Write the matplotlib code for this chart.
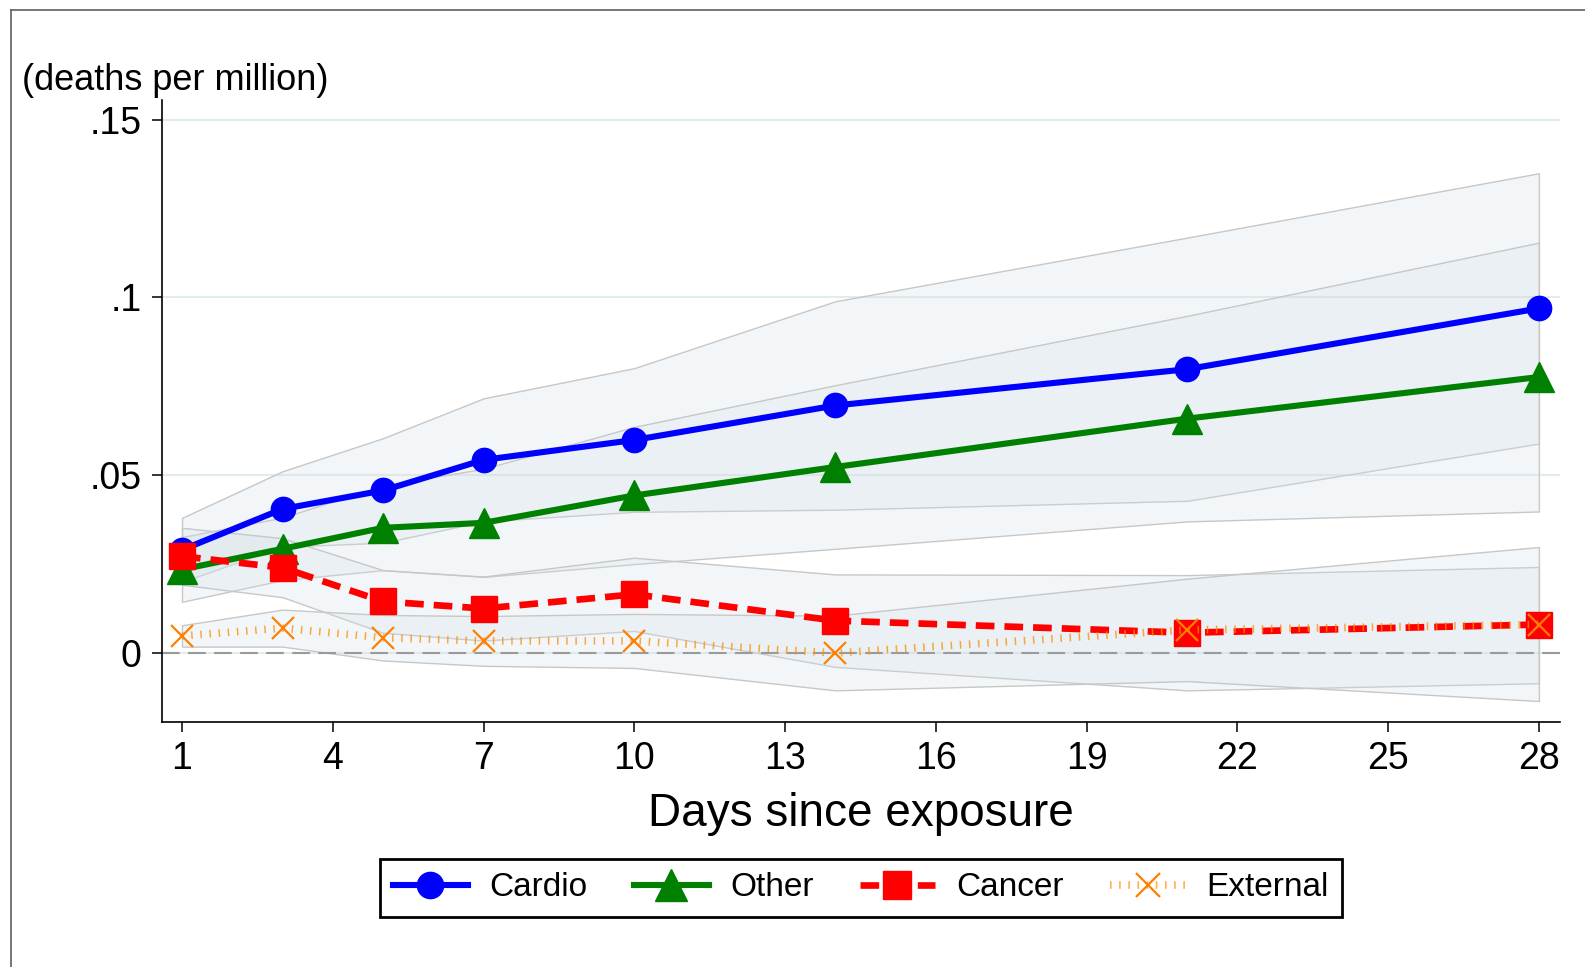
import matplotlib
matplotlib.use("Agg")
import matplotlib.pyplot as plt
from matplotlib.lines import Line2D

plt.rcParams['font.family'] = ['Liberation Sans', 'DejaVu Sans']

# Days since exposure at which effects are estimated
days = [1, 3, 5, 7, 10, 14, 21, 28]

# Point estimates and 95% confidence bounds (deaths per million)
cardio = [0.0290, 0.0405, 0.0457, 0.0543, 0.0599, 0.0696, 0.0798, 0.0969]
cardio_lo = [0.0200, 0.0299, 0.0310, 0.0370, 0.0397, 0.0403, 0.0428, 0.0589]
cardio_hi = [0.0380, 0.0511, 0.0604, 0.0716, 0.0801, 0.0989, 0.1168, 0.1349]

other = [0.0235, 0.0293, 0.0352, 0.0366, 0.0443, 0.0523, 0.0659, 0.0776]
other_lo = [0.0144, 0.0205, 0.0233, 0.0214, 0.0250, 0.0293, 0.0370, 0.0398]
other_hi = [0.0326, 0.0381, 0.0471, 0.0518, 0.0636, 0.0753, 0.0948, 0.1154]

cancer = [0.0272, 0.0240, 0.0145, 0.0125, 0.0165, 0.0091, 0.0057, 0.0080]
cancer_lo = [0.0192, 0.0157, 0.0057, 0.0035, 0.0062, -0.0039, -0.0105, -0.0085]
cancer_hi = [0.0352, 0.0323, 0.0233, 0.0215, 0.0268, 0.0221, 0.0219, 0.0242]

external = [0.0048, 0.0070, 0.0043, 0.0034, 0.0034, 0.0000, 0.0065, 0.0080]
external_lo = [0.0018, 0.0018, -0.0021, -0.0036, -0.0042, -0.0105, -0.0079, -0.0135]
external_hi = [0.0078, 0.0122, 0.0107, 0.0104, 0.0110, 0.0105, 0.0209, 0.0298]

series_names = ["Cardio", "Other", "Cancer", "External"]
x_ticks = [1, 4, 7, 10, 13, 16, 19, 22, 25, 28]
y_ticks = [0, 0.05, 0.10, 0.15]
y_tick_labels = ["0", ".05", ".1", ".15"]

W, H = 1585, 967
fig = plt.figure(figsize=(W / 100, H / 100), dpi=100)
fig.patch.set_facecolor("white")

ax = fig.add_axes([162 / W, 1 - 722 / H, (1560 - 162) / W, (722 - 100) / H])
ax.set_xlim(0.602, 28.42)
ax.set_ylim(-0.0194, 0.1555)

# horizontal grid
ax.set_yticks(y_ticks)
ax.set_yticklabels(y_tick_labels)
ax.set_xticks(x_ticks)
ax.yaxis.grid(True, color="#e3ecec", lw=1.5, zorder=0)
ax.set_axisbelow(True)

# confidence bands
band_face = (212 / 255, 224 / 255, 230 / 255, 0.27)
band_edge = (0.78, 0.78, 0.78)
for lo, hi in [(cardio_lo, cardio_hi), (other_lo, other_hi),
               (cancer_lo, cancer_hi), (external_lo, external_hi)]:
    ax.fill_between(days, lo, hi, facecolor=band_face, edgecolor=band_edge,
                    lw=1.0, zorder=1)

# reference line at zero
ax.axhline(0, color="#9a9a9a", lw=1.5, ls=(0, (8.5, 4)), zorder=2)

h1, = ax.plot(days, cardio, color="#0000ff", lw=4.4, marker="o", ms=17.5,
              label=series_names[0], zorder=5)
h2, = ax.plot(days, other, color="#008000", lw=4.4, marker="^", ms=21,
              label=series_names[1], zorder=6)
h3, = ax.plot(days, cancer, color="#ff0000", lw=4.8, ls=(0, (2.8, 1.5)),
              marker="s", ms=18.5, label=series_names[2], zorder=7)
h4, = ax.plot(days, external, color=(1.0, 0.55, 0.0, 0.75), lw=5.5,
              ls=(0, (0.2, 1.0)), marker="x", ms=16, mew=1.6,
              mec="#ff8000", label=series_names[3], zorder=8)

for side in ["top", "right"]:
    ax.spines[side].set_visible(False)
for side in ["left", "bottom"]:
    ax.spines[side].set_linewidth(1.2)
    ax.spines[side].set_color("black")

ax.tick_params(axis="both", direction="out", length=7.5, width=1.1,
               labelsize=27, colors="black")
ax.tick_params(axis="y", pad=7)
ax.tick_params(axis="x", pad=6)

fig.text(22 / W, 1 - 80 / H, "(deaths per million)", fontsize=26,
         ha="left", va="center")
fig.text(861 / W, 1 - 814 / H, "Days since exposure", fontsize=33,
         ha="center", va="center")

leg = fig.legend(handles=[h1, h2, h3, h4], loc="center",
                 bbox_to_anchor=(861 / W, 1 - 888 / H), ncol=4, fontsize=24,
                 frameon=True, fancybox=False, edgecolor="black",
                 framealpha=1, handlelength=2.25, handletextpad=0.65,
                 columnspacing=1.38, borderpad=0.4, borderaxespad=0,
                 markerscale=1.08)
leg.get_frame().set_linewidth(2)

# outer frame
fig.add_artist(Line2D([11 / W, 1], [1 - 10 / H, 1 - 10 / H],
                      color="#606060", lw=1.2))
fig.add_artist(Line2D([11 / W, 11 / W], [0, 1 - 10 / H],
                      color="#606060", lw=1.2))

fig.savefig("out.png", dpi=100)
